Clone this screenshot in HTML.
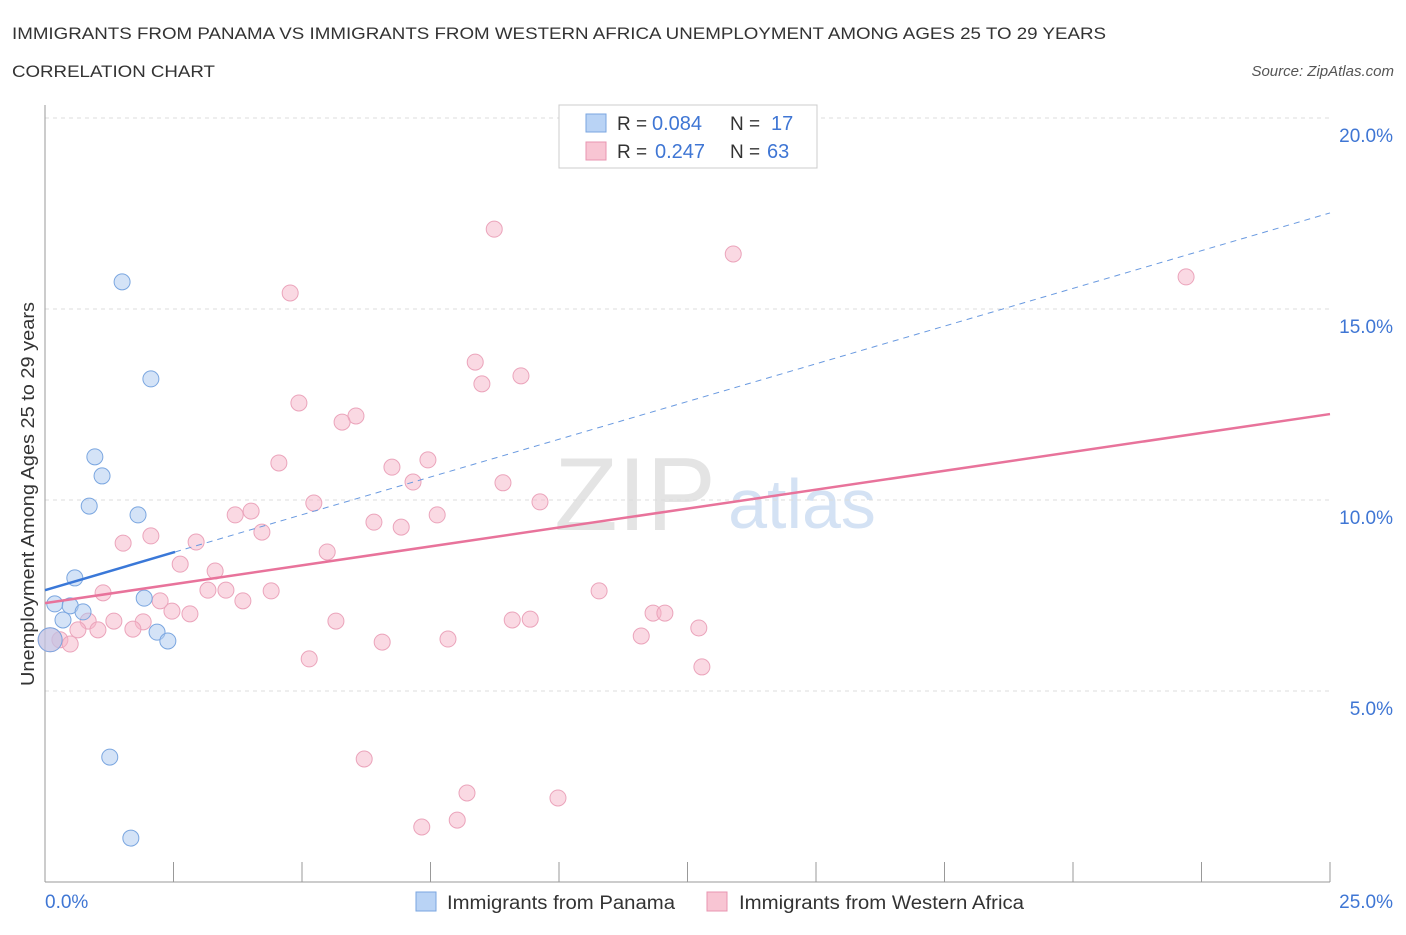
<!DOCTYPE html>
<html><head><meta charset="utf-8"><style>
body{margin:0;background:#fff;font-family:"Liberation Sans",sans-serif;}
svg text{font-family:"Liberation Sans",sans-serif;}
</style></head><body>
<svg width="1406" height="930" id="chart">
<text x="12" y="39" font-size="17" fill="#333" textLength="1094" lengthAdjust="spacingAndGlyphs">IMMIGRANTS FROM PANAMA VS IMMIGRANTS FROM WESTERN AFRICA UNEMPLOYMENT AMONG AGES 25 TO 29 YEARS</text>
<text x="12" y="77" font-size="17" fill="#333" textLength="203" lengthAdjust="spacingAndGlyphs">CORRELATION CHART</text>
<text x="1394" y="76" font-size="15" fill="#555" font-style="italic" text-anchor="end">Source: ZipAtlas.com</text>
<text x="635" y="530" font-size="104" fill="#e4e4e4" font-family="Liberation Serif" text-anchor="middle">ZIP</text>
<text x="802" y="528" font-size="70" fill="#d4e2f4" text-anchor="middle">atlas</text>
<text transform="translate(34,494) rotate(-90)" font-size="18" fill="#333" text-anchor="middle" textLength="384" lengthAdjust="spacingAndGlyphs">Unemployment Among Ages 25 to 29 years</text>
<g id="grid"></g><g id="pts"></g><g id="lines"></g>
<g>
<rect x="559" y="105" width="258" height="63" fill="#fff" stroke="#ccc"/>
<rect x="586" y="114" width="20" height="18" fill="#b9d3f5" stroke="#7aa6e0"/>
<text x="617" y="130" font-size="19" fill="#333">R =</text>
<text x="652" y="130" font-size="20" fill="#3f76d4">0.084</text>
<text x="730" y="130" font-size="19" fill="#333">N =</text>
<text x="771" y="130" font-size="20" fill="#3f76d4">17</text>
<rect x="586" y="142" width="20" height="18" fill="#f8c5d3" stroke="#e895b0"/>
<text x="617" y="158" font-size="19" fill="#333">R =</text>
<text x="655" y="158" font-size="20" fill="#3f76d4">0.247</text>
<text x="730" y="158" font-size="19" fill="#333">N =</text>
<text x="767" y="158" font-size="20" fill="#3f76d4">63</text>
</g>
<rect x="416" y="892" width="20" height="19" fill="#b9d3f5" stroke="#7aa6e0"/>
<text x="447" y="909" font-size="19" fill="#333" textLength="228" lengthAdjust="spacingAndGlyphs">Immigrants from Panama</text>
<rect x="707" y="892" width="20" height="19" fill="#f8c5d3" stroke="#e895b0"/>
<text x="739" y="909" font-size="19" fill="#333" textLength="285" lengthAdjust="spacingAndGlyphs">Immigrants from Western Africa</text>
<text x="45" y="908" font-size="19" fill="#3f76d4">0.0%</text>
<text x="1393" y="908" font-size="19" fill="#3f76d4" text-anchor="end">25.0%</text>
</svg>
<script>
const yTicks=[5,10,15,20];
const yTickLabels=["5.0%","10.0%","15.0%","20.0%"];
const panamaX=[1.50,2.06,0.97,1.11,0.86,1.81,0.58,0.19,0.49,0.74,0.35,1.93,2.18,2.39,0.10,1.26,1.67];
const panamaY=[15.71,13.17,11.13,10.63,9.84,9.61,7.96,7.28,7.23,7.07,6.86,7.43,6.54,6.31,6.34,3.27,1.15];
const waX=[8.74,13.39,22.2,4.77,8.37,9.26,8.5,4.94,6.05,5.78,4.55,7.45,6.75,7.16,8.91,5.23,9.63,4.01,3.7,7.63,6.4,6.93,4.22,2.06,1.52,2.94,5.49,2.63,3.31,1.13,3.17,3.52,4.4,10.78,2.24,3.85,2.47,2.82,1.34,0.84,1.91,5.66,9.09,9.44,11.83,12.06,1.03,1.71,0.64,12.72,11.6,7.84,6.56,0.29,0.49,5.14,12.78,6.21,8.21,9.98,8.02,7.33,0.10];
const waY=[17.09,16.44,15.84,15.42,13.61,13.25,13.04,12.54,12.2,12.04,10.97,11.05,10.86,10.47,10.45,9.92,9.95,9.71,9.61,9.61,9.42,9.29,9.16,9.06,8.87,8.9,8.64,8.32,8.14,7.57,7.64,7.64,7.62,7.62,7.36,7.36,7.09,7.02,6.83,6.83,6.81,6.83,6.86,6.88,7.04,7.04,6.6,6.62,6.6,6.65,6.44,6.36,6.28,6.34,6.23,5.84,5.63,3.22,2.33,2.2,1.62,1.44,6.34];
const panamaTrend=[7.64,0.395];
const waTrend=[7.30,0.198];
const X=v=>45+v*51.4, Y=v=>882-v*38.2;
const NS="http://www.w3.org/2000/svg";
function mk(t,a,p){const e=document.createElementNS(NS,t);for(const k in a)e.setAttribute(k,a[k]);p.appendChild(e);return e;}
const g=document.getElementById('grid');
yTicks.forEach((t,i)=>{
 const l=mk('line',{x1:45,x2:1330,y1:Y(t),y2:Y(t),stroke:'#ddd','stroke-dasharray':'4,4'},g);
 
 
 const tx=mk('text',{x:1393,y:Y(t)+24,'font-size':19,fill:'#3f76d4','text-anchor':'end'},g);
 tx.textContent=yTickLabels[i];
 
 
});
mk('line',{x1:45,x2:45,y1:105,y2:882,stroke:'#999'},g);
mk('line',{x1:45,x2:1330,y1:882,y2:882,stroke:'#999'},g);
for(let i=0;i<=10;i++){const t=mk('line',{x1:X(i*2.5),x2:X(i*2.5),y1:862,y2:882,stroke:'#999'},g);
 
 }
const p=document.getElementById('pts');
waX.forEach((x,i)=>{const c=mk('circle',{cx:X(x),cy:Y(waY[i]),r:i==waX.length-1?12:8,fill:'rgba(246,180,200,0.5)',stroke:'#eba4bb','stroke-width':1},p);
 
 });
panamaX.forEach((x,i)=>{const c=mk('circle',{cx:X(x),cy:Y(panamaY[i]),r:i==14?12:8,fill:'rgba(170,200,240,0.5)',stroke:'#7aa6e0','stroke-width':1},p);
 
 });
const L=document.getElementById('lines');
let e=mk('line',{x1:X(0),y1:Y(panamaTrend[0]),x2:X(2.53),y2:Y(panamaTrend[0]+2.53*panamaTrend[1]),stroke:'#3a78d8','stroke-width':2.5},L);


e=mk('line',{x1:X(2.53),y1:Y(panamaTrend[0]+2.53*panamaTrend[1]),x2:X(25),y2:Y(panamaTrend[0]+25*panamaTrend[1]),stroke:'#6a9ae0','stroke-width':1,'stroke-dasharray':'6,5'},L);


e=mk('line',{x1:X(0),y1:Y(waTrend[0]),x2:X(25),y2:Y(waTrend[0]+25*waTrend[1]),stroke:'#e8739b','stroke-width':2.5},L);


</script>
</body></html>
